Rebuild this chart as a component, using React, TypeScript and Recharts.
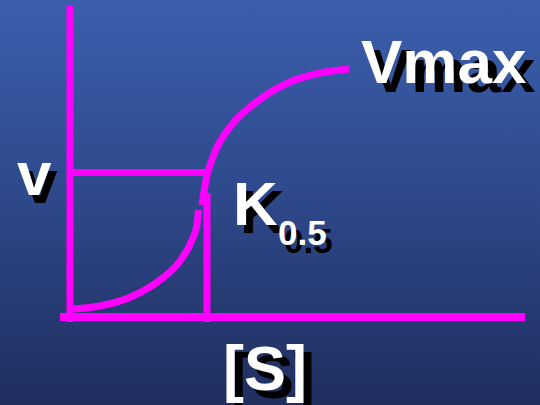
import React from "react";
import { LineChart, Line, XAxis, YAxis, Customized } from "recharts";

// axis frame (units: [S] along x, v along y)
const yAxisLine = [
  { x: 0, y: -5 },
  { x: 0, y: 311 },
];
const xAxisLine = [
  { x: -10, y: 0 },
  { x: 455, y: 0 },
];
// half-max velocity guide
const vGuide = [
  { x: 0, y: 144.5 },
  { x: 135, y: 144.5 },
];
// K0.5 guide
const kGuide = [
  { x: 137, y: 124 },
  { x: 137, y: -5 },
];
// sigmoid curve, lower part
const lowerCurve = [
  { x: 3, y: 8 },
  { x: 30, y: 11 },
  { x: 63, y: 21 },
  { x: 90, y: 37 },
  { x: 110, y: 56 },
  { x: 122, y: 77 },
  { x: 127, y: 92 },
  { x: 128.5, y: 107 },
];
// sigmoid curve, upper part
const upperCurve = [
  { x: 132, y: 112 },
  { x: 136, y: 137 },
  { x: 145, y: 165 },
  { x: 160, y: 190 },
  { x: 185, y: 214 },
  { x: 220, y: 235 },
  { x: 250, y: 244 },
  { x: 279, y: 248 },
];

const labelVmax = "Vmax";
const labelV = "v";
const labelK = "K";
const labelKSub = "0.5";
const labelS = "[S]";

const MAG = "#ff00ff";
const FONT = "'Liberation Sans', Arial, sans-serif";

const ShadowText = ({ x, y, size, text, dx = 8, dy = 8 }: any) => (
  <g>
    <text x={x + dx} y={y + dy} fill="#000" fontSize={size} fontWeight="bold" fontFamily={FONT}>
      {text}
    </text>
    <text x={x} y={y} fill="#fff" fontSize={size} fontWeight="bold" fontFamily={FONT}>
      {text}
    </text>
  </g>
);

const Labels = () => (
  <g>
    <ShadowText x={361} y={83} size={62} text={labelVmax} dx={9} dy={9} />
    <ShadowText x={17} y={195} size={62} text={labelV} dx={6} dy={8} />
    <ShadowText x={233} y={225} size={62} text={labelK} dx={7} dy={8} />
    <ShadowText x={278} y={245} size={35} text={labelKSub} dx={6} dy={8} />
    <ShadowText x={223} y={390} size={63} text={labelS} dx={8} dy={8} />
  </g>
);

export default function App() {
  const common = {
    stroke: MAG,
    strokeWidth: 7,
    dot: false,
    activeDot: false,
    isAnimationActive: false,
    dataKey: "y",
  } as any;
  return (
    <div
      style={{
        position: "absolute",
        left: 0,
        top: 0,
        width: 540,
        height: 405,
        background: "linear-gradient(to bottom, #3b5fad 0%, #2f4a8e 45%, #202e5e 100%)",
      }}
    >
      <LineChart
        width={540}
        height={405}
        margin={{ top: 6, right: 15, bottom: 83, left: 60 }}
      >
        <XAxis type="number" dataKey="x" domain={[-10, 455]} hide allowDataOverflow />
        <YAxis type="number" dataKey="y" domain={[-5, 311]} hide allowDataOverflow />
        <Line {...common} data={yAxisLine} type="linear" />
        <Line {...common} data={xAxisLine} type="linear" strokeWidth={8} />
        <Line {...common} data={vGuide} type="linear" />
        <Line {...common} data={kGuide} type="linear" />
        <Line {...common} data={lowerCurve} type="monotone" />
        <Line {...common} data={upperCurve} type="monotone" />
        <Customized component={Labels} />
      </LineChart>
    </div>
  );
}
